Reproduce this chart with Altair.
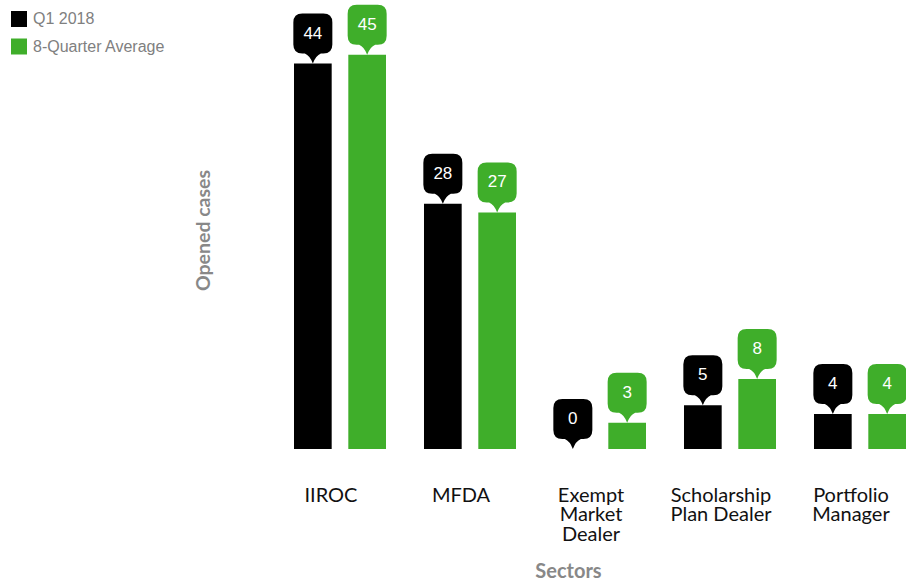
import altair as alt
import pandas as pd

sectors = ["IIROC", "MFDA", "Exempt Market Dealer", "Scholarship Plan Dealer", "Portfolio Manager"]
label_lines = [["IIROC"], ["MFDA"], ["Exempt", "Market", "Dealer"], ["Scholarship", "Plan Dealer"], ["Portfolio", "Manager"]]
series = ["Q1 2018", "8-Quarter Average"]
q1_2018 = [44, 28, 0, 5, 4]
avg_8q = [45, 27, 3, 8, 4]
colors = ["#000000", "#3FAE2A"]

rows = []
for s, a, b in zip(sectors, q1_2018, avg_8q):
    rows.append({"sector": s, "series": series[0], "value": a})
    rows.append({"sector": s, "series": series[1], "value": b})
df = pd.DataFrame(rows)

# multi-line label expression
expr = "datum.label"
for name, lines in zip(sectors, label_lines):
    arr = "[" + ",".join("'" + l + "'" for l in lines) + "]"
    expr = f"datum.label == '{name}' ? {arr} : ({expr})"

x_enc = alt.X(
    "sector:N",
    sort=sectors,
    scale=alt.Scale(paddingInner=0.2923, paddingOuter=0),
    axis=alt.Axis(
        title="Sectors",
        labelExpr=expr,
        labelAngle=0,
        labelFont="Lato",
        labelFontSize=20,
        labelColor="#111111",
        labelLineHeight=19.5,
        labelPadding=36,
        labelOffset=-9,
        labelBaseline="top",
        ticks=False,
        domain=False,
        grid=False,
        titleFont="Lato",
        titleFontSize=20,
        titleFontWeight="bold",
        titleColor="#888888",
        titleX=274,
        titleY=122,
        titleBaseline="middle",
        titleAlign="center",
    ),
)
xoff_enc = alt.XOffset("series:N", sort=series, scale=alt.Scale(paddingInner=0.306, paddingOuter=0))
y_enc = alt.Y(
    "value:Q",
    scale=alt.Scale(domain=[0, 50], nice=False),
    axis=alt.Axis(
        title="Opened cases",
        labels=False,
        ticks=False,
        domain=False,
        grid=False,
        titleFont="Lato",
        titleFontSize=19.5,
        titleFontWeight="bold",
        titleColor="#888888",
        titleAngle=270,
        titleX=-91,
        titleY=219,
        titleAlign="center",
        titleBaseline="middle",
    ),
)

base = alt.Chart(df)

bars = base.mark_bar().encode(
    x=x_enc,
    xOffset=xoff_enc,
    y=y_enc,
    color=alt.Color(
        "series:N",
        sort=series,
        scale=alt.Scale(domain=series, range=colors),
        legend=alt.Legend(
            orient="none",
            legendX=-283,
            legendY=0,
            title=None,
            symbolType="square",
            symbolSize=256,
            symbolStrokeWidth=0,
            labelFont="Liberation Sans",
            labelFontSize=16,
            labelColor="#808080",
            labelOffset=6,
            rowPadding=11.5,
            padding=0,
        ),
    ),
)

callout_path = (
    "M0,0 Q-0.15,-0.4 -0.4,-0.5 L-0.525,-0.5 Q-0.975,-0.5 -0.975,-0.95 "
    "L-0.975,-2.05 Q-0.975,-2.5 -0.525,-2.5 L0.525,-2.5 Q0.975,-2.5 0.975,-2.05 "
    "L0.975,-0.95 Q0.975,-0.5 0.525,-0.5 L0.4,-0.5 Q0.15,-0.4 0,0 Z"
)

callouts = base.mark_point(
    shape=callout_path, size=1600, filled=True, opacity=1, strokeWidth=0
).encode(
    x=x_enc,
    xOffset=xoff_enc,
    y=y_enc,
    fill=alt.Fill("series:N", sort=series, scale=alt.Scale(domain=series, range=colors), legend=None),
)

texts = base.mark_text(
    dy=-30, color="white", font="Liberation Sans", fontSize=17, baseline="middle", align="center"
).encode(
    x=x_enc,
    xOffset=xoff_enc,
    y=y_enc,
    text="value:Q",
)

chart = (
    alt.layer(bars, callouts, texts)
    .properties(
        width=612,
        height=438,
        autosize=alt.AutoSizeParams(type="none"),
        padding={"left": 294, "top": 11, "right": 0, "bottom": 135},
        background="white",
    )
    .configure_view(stroke=None)
)

chart.save("out.html", embed_options={"renderer": "svg", "actions": False})
